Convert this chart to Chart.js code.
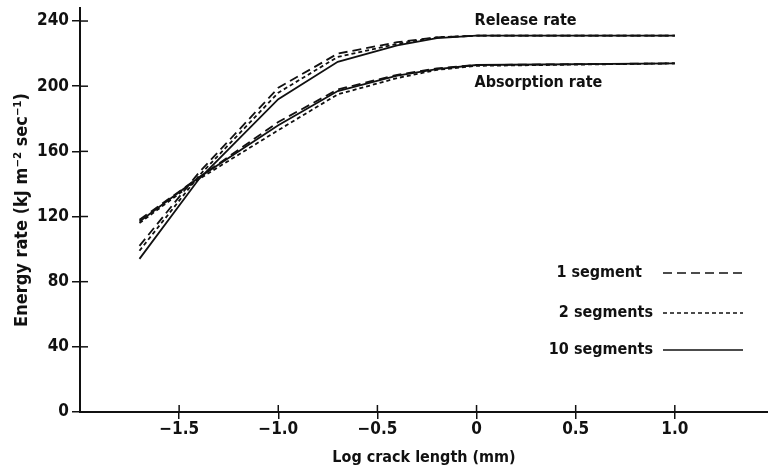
<!DOCTYPE html>
<html>
<head>
<meta charset="utf-8">
<script src="https://cdn.jsdelivr.net/npm/chart.js@4.4.0/dist/chart.umd.min.js"></script>
<style>
  html, body { margin: 0; padding: 0; background: #fff; }
</style>
</head>
<body>
<canvas id="myChart" width="768" height="469"></canvas>
<script>
// Data kurva
const logLength = [-1.7, -1.4, -1.0, -0.7, -0.4, -0.2, 0, 1.0];
const release1 = [102, 147, 199, 220, 227, 230, 231, 231];
const release2 = [99, 145, 196, 218, 226, 230, 231, 231];
const release10 = [94, 143, 192, 215, 225, 229.5, 231, 231];
const absorb1 = [118, 144, 178, 198, 207, 211, 213, 214];
const absorb2 = [116, 143, 173, 195, 205, 210, 212.5, 214];
const absorb10 = [117, 144, 176, 197, 206.5, 210.5, 213, 214];

const segmentNames = ['1 segment', '2 segments', '10 segments'];
const segmentDash = [[9, 5], [4, 3], []];
const xTicks = [-1.5, -1.0, -0.5, 0, 0.5, 1.0];
const yTicks = [0, 40, 80, 120, 160, 200, 240];

const ink = '#111';
const fontFamily = "'DejaVu Sans Condensed', 'DejaVu Sans', sans-serif";

function series(values, i) {
    return {
        label: segmentNames[i],
        data: logLength.map((x, k) => ({ x: x, y: values[k] })),
        borderColor: ink,
        borderWidth: 1.8,
        borderDash: segmentDash[i],
        pointRadius: 0,
        tension: 0,
        fill: false
    };
}

// tanda tick yang menembus sumbu + label kurva + legenda
const extras = {
    id: 'extras',
    afterDraw(chart) {
        const ctx = chart.ctx;
        const xs = chart.scales.x, ys = chart.scales.y;
        const area = chart.chartArea;
        ctx.save();
        ctx.strokeStyle = ink;
        ctx.lineWidth = 1.5;
        ctx.setLineDash([]);
        xTicks.forEach(v => {
            const px = xs.getPixelForValue(v);
            ctx.beginPath();
            ctx.moveTo(px, area.bottom);
            ctx.lineTo(px, area.bottom - 7);
            ctx.stroke();
        });
        yTicks.forEach(v => {
            const py = ys.getPixelForValue(v);
            ctx.beginPath();
            ctx.moveTo(area.left, py);
            ctx.lineTo(area.left + 8, py);
            ctx.stroke();
        });

        ctx.fillStyle = ink;
        ctx.font = "bold 16px " + fontFamily;
        ctx.textBaseline = 'middle';
        ctx.textAlign = 'left';
        const lx = xs.getPixelForValue(0) - 2;
        ctx.fillText('Release rate', lx, ys.getPixelForValue(231) - 15);
        ctx.fillText('Absorption rate', lx, ys.getPixelForValue(214) + 19);

        // legenda
        const legendY = [273, 313, 350];
        const legendTextEnd = [642, 653, 653];
        segmentNames.forEach((name, i) => {
            const y = legendY[i];
            ctx.textAlign = 'right';
            ctx.fillText(name, legendTextEnd[i], y);
            ctx.setLineDash(segmentDash[i]);
            ctx.lineWidth = 1.6;
            ctx.beginPath();
            ctx.moveTo(663, y);
            ctx.lineTo(743, y);
            ctx.stroke();
        });
        ctx.restore();
    }
};

const ctx = document.getElementById('myChart').getContext('2d');
const myChart = new Chart(ctx, {
    type: 'line',
    data: {
        datasets: [
            series(release1, 0), series(release2, 1), series(release10, 2),
            series(absorb1, 0), series(absorb2, 1), series(absorb10, 2)
        ]
    },
    options: {
        responsive: false,
        animation: false,
        devicePixelRatio: 1,
        layout: { padding: { top: 8, right: 0, left: 0, bottom: 0 } },
        plugins: {
            legend: { display: false },
            tooltip: { enabled: false }
        },
        scales: {
            x: {
                type: 'linear',
                min: -2.0,
                max: 1.47,
                afterBuildTicks: axis => { axis.ticks = xTicks.map(v => ({ value: v })); },
                afterFit: axis => { axis.height = 57; axis.paddingLeft = 0; axis.paddingRight = 0; },
                grid: { drawOnChartArea: false, tickLength: 7, color: ink, lineWidth: 1.5 },
                border: { color: ink, width: 2 },
                ticks: {
                    color: ink,
                    padding: 0,
                    font: { family: fontFamily, size: 17, weight: 'bold' },
                    callback: v => v === 0 ? '0' : (v < 0 ? '\u2212' : '') + Math.abs(v).toFixed(1)
                },
                title: {
                    display: true,
                    text: 'Log crack length (mm)',
                    color: ink,
                    padding: { top: 0, bottom: 2 },
                    font: { family: fontFamily, size: 16, weight: 'bold' }
                }
            },
            y: {
                type: 'linear',
                min: 0,
                max: 248,
                afterBuildTicks: axis => { axis.ticks = yTicks.map(v => ({ value: v })); },
                afterFit: axis => { axis.width = 80; axis.paddingTop = 0; axis.paddingBottom = 0; },
                grid: { drawOnChartArea: false, tickLength: 8, color: ink, lineWidth: 1.5 },
                border: { color: ink, width: 2 },
                ticks: {
                    color: ink,
                    padding: 3,
                    font: { family: fontFamily, size: 17, weight: 'bold' }
                },
                title: {
                    display: true,
                    text: 'Energy rate (kJ m\u207B\u00B2 sec\u207B\u00B9)',
                    color: ink,
                    padding: { top: 12, bottom: 0 },
                    font: { family: fontFamily, size: 18, weight: 'bold' }
                }
            }
        }
    },
    plugins: [extras]
});
</script>
</body>
</html>
